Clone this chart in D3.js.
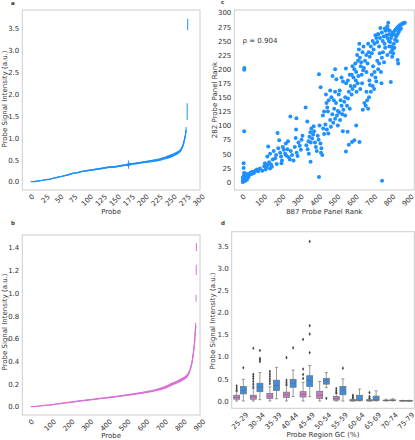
<!DOCTYPE html>
<html><head><meta charset="utf-8">
<script src="https://cdn.jsdelivr.net/npm/d3@7"></script>
<style>
body{margin:0;background:#fff}
svg{display:block}
text{font-family:"DejaVu Sans",sans-serif;fill:#333}
</style>
</head><body>
<svg id="chart" width="415" height="440"></svg>
<script>
// ---------- Panel a: 282-probe panel, sorted signal ----------
const probeA = [0,5,10,15,20,25,30,35,40,45,50,55,60,65,70,75,80,85,90,95,100,105,110,115,120,125,130,135,140,145,150,155,160,165,170,175,180,185,190,195,200,205,210,215,220,225,230,235,240,245,250,255,260,263,266,268,269,270,271,272,273,274,275,276,277,278,280,281];
const meanA = [0.00,0.00,0.01,0.02,0.03,0.04,0.05,0.06,0.08,0.09,0.11,0.12,0.14,0.15,0.17,0.19,0.20,0.21,0.23,0.24,0.25,0.26,0.27,0.28,0.29,0.30,0.31,0.32,0.33,0.33,0.34,0.35,0.36,0.37,0.38,0.39,0.40,0.41,0.42,0.43,0.44,0.45,0.46,0.47,0.48,0.49,0.50,0.52,0.54,0.56,0.58,0.61,0.64,0.66,0.69,0.71,0.73,0.75,0.78,0.81,0.85,0.90,0.95,1.01,1.08,1.18,1.60,3.59];
const errA  = [0.01,0.01,0.01,0.01,0.01,0.01,0.01,0.01,0.01,0.012,0.012,0.012,0.015,0.015,0.015,0.015,0.015,0.015,0.015,0.015,0.018,0.018,0.018,0.018,0.018,0.02,0.02,0.02,0.02,0.02,0.02,0.02,0.02,0.02,0.02,0.095,0.02,0.02,0.022,0.022,0.022,0.025,0.025,0.025,0.025,0.03,0.03,0.03,0.03,0.035,0.04,0.035,0.035,0.035,0.035,0.03,0.03,0.03,0.03,0.03,0.03,0.035,0.035,0.04,0.04,0.07,0.19,0.13];

// ---------- Panel b: 887-probe panel, sorted signal ----------
const probeB = [0,25,50,75,100,125,150,175,200,225,250,275,300,325,350,375,400,425,450,475,500,525,550,575,600,625,650,675,700,725,750,775,800,820,835,845,855,862,868,873,877,879,882,884,885,886];
const meanB = [0.000,0.003,0.007,0.011,0.015,0.021,0.026,0.032,0.037,0.042,0.048,0.053,0.058,0.063,0.068,0.073,0.078,0.083,0.088,0.093,0.099,0.105,0.111,0.117,0.124,0.131,0.139,0.148,0.160,0.175,0.195,0.212,0.232,0.250,0.268,0.295,0.340,0.390,0.450,0.520,0.590,0.640,0.710,0.955,1.205,1.405];
const errB  = [0.002,0.002,0.002,0.003,0.003,0.003,0.003,0.004,0.004,0.004,0.004,0.005,0.005,0.005,0.005,0.005,0.006,0.006,0.006,0.006,0.007,0.007,0.007,0.008,0.008,0.009,0.009,0.010,0.011,0.012,0.013,0.013,0.014,0.014,0.015,0.015,0.015,0.015,0.02,0.02,0.02,0.02,0.03,0.03,0.045,0.035];

// ---------- Panel c: rank comparison ----------
const rankPairs = [
[1,0],[3,2],[5,1],[4,5],[7,3],[9,6],[2,8],[6,10],[11,4],[13,8],[10,12],[15,2],[16,11],[18,6],[20,9],[22,13],[24,4],[26,7],[14,15],[28,11],[30,14],[8,16],[33,9],[36,13],[40,15],
[45,17],[50,14],[55,18],[62,16],[70,20],[78,22],[85,19],[95,24],[108,20],[118,28],[122,33],[130,26],[137,30],[145,35],[150,24],[155,31],[160,27],[126,22],
[6,25],[6,33],[9,90],[9,199],[10,202],
[140,63],[150,50],[135,45],[165,40],[170,55],[178,42],[183,48],[191,87],[195,60],[200,74],[205,52],[210,45],[215,38],[220,62],[225,57],[232,50],[238,47],[245,58],[252,44],[258,40],[263,55],[270,48],[278,38],[285,62],[290,78],[295,52],[300,46],[305,70],[312,64],[318,57],[322,75],[327,82],[236,68],[248,72],[212,33],[186,32],
[261,116],[294,113],[292,93],[344,132],[353,107],[371,36],[417,9],
[348,65],[355,58],[360,72],[365,80],[370,88],[375,95],[380,77],[385,84],[390,90],[395,70],[400,62],[405,55],[410,82],[415,75],[420,100],[425,68],[430,60],[435,48],[428,52],[388,99],[372,70],[362,50],[440,95],[445,85],
[417,191],[426,168],[491,188],[505,200],[564,201],
[438,118],[445,125],[452,102],[458,140],[462,132],[470,145],[478,110],[485,150],[490,120],[495,105],[500,130],[505,160],[510,140],[515,118],[520,126],[525,155],[530,162],[535,145],[540,135],[545,120],[550,128],[555,142],[560,150],[565,175],[570,135],[575,148],[580,160],[585,130],[590,170],[595,155],[600,165],[520,100],[532,110],[547,90],[505,112],[482,98],[468,86],[460,93],[455,155],[512,182],[540,185],[548,178],[498,145],[528,123],[560,118],[575,180],[585,190],[478,162],[466,125],
[573,89],[597,71],[610,74],[638,71],[620,100],[564,54],[580,66],
[605,185],[610,200],[615,210],[620,195],[625,225],[630,215],[635,235],[640,220],[645,205],[650,190],[655,230],[660,240],[612,170],[618,180],[628,175],[642,165],[652,175],[600,205],[595,190],[632,188],[647,212],[658,198],[637,245],[622,160],
[656,128],[665,140],[672,135],[680,145],[690,150],[700,160],[710,170],[718,165],[685,130],[676,160],[695,172],
[662,202],[668,215],[675,225],[682,210],[688,230],[694,222],[700,240],[705,228],[710,250],[715,235],[720,245],[725,260],[730,255],[735,248],[740,262],[745,240],[750,255],[752,273],[739,262],[760,265],[765,250],[770,258],[775,245],[780,268],[785,260],[790,255],[795,270],[800,262],[720,195],[725,185],[730,178],[740,200],[745,210],[755,195],[760,220],[766,230],[772,212],[778,238],[790,225],[800,240],[712,205],[705,190],[692,180],[735,215],[758,175],[748,228],[685,245],[676,195],
[805,248],[810,255],[815,260],[820,265],[825,262],[830,268],[835,270],[840,272],[845,274],[850,275],[855,277],[860,278],[865,279],[870,280],[875,281],[880,282],[885,282],[812,240],[818,235],[825,245],[832,252],[838,258],[845,262],[852,266],[858,270],[864,272],[822,228],[816,222],[808,230],[828,238],[842,250],[798,250],[803,268],[795,282],[790,276],[776,272],
[809,177],[846,216],[849,210],[761,2]
];
const rhoText = "ρ = 0.904";

// ---------- Panel d: GC content boxplots ----------
const gcBins = ["25-29","30-34","35-39","40-44","45-49","50-54","55-59","60-64","65-69","70-74","75-79"];
// panel b (887) series = pink, panel a (282) series = blue
const pinkLo  = [0.00,0.00,0.00,0.00,0.00,0.00,0.00,0.00,0.00,0.000,0.000];
const pinkQ1  = [0.04,0.04,0.06,0.08,0.09,0.06,0.02,0.00,0.00,0.005,0.000];
const pinkMed = [0.08,0.09,0.11,0.14,0.15,0.13,0.06,0.01,0.01,0.010,0.005];
const pinkQ3  = [0.13,0.13,0.17,0.20,0.21,0.22,0.10,0.03,0.03,0.020,0.010];
const pinkHi  = [0.22,0.28,0.32,0.35,0.42,0.44,0.17,0.05,0.05,0.040,0.015];
const pinkFliers = [[0.24,0.29,0.34],[0.32,0.38,0.44,0.50,0.55,0.60,1.19],[0.39,0.45,0.50,0.56,0.61,0.67],[0.38,0.42,0.47,0.98],[0.51,0.60,0.72,1.39],[],[0.19,0.23,0.28],[0.07,0.10,0.13],[0.07,0.10,0.19],[],[]];
const blueLo  = [0.00,0.03,0.05,0.10,0.10,0.30,0.00,0.00,0.00,0.000,0.000];
const blueQ1  = [0.16,0.21,0.24,0.31,0.33,0.38,0.14,0.01,0.01,0.010,0.000];
const blueMed = [0.24,0.31,0.35,0.40,0.47,0.45,0.24,0.02,0.03,0.015,0.005];
const blueQ3  = [0.33,0.40,0.47,0.49,0.57,0.51,0.33,0.13,0.11,0.025,0.010];
const blueHi  = [0.49,0.64,0.76,0.70,0.80,0.64,0.50,0.27,0.23,0.050,0.015];
const blueFliers = [[0.75],[0.89,0.93,0.96,1.14],[],[1.20],[1.09,1.51,1.70,3.60],[0.06],[0.74],[],[],[],[]];

// ---------- styles ----------
const BLUE = "#1e90ff", PINK = "#da70d6";
const BLUE_BOX = "#3a8fe3", PINK_BOX = "#cd7dca";
const SPINE = "#cccccc", GRAYLINE = "#6e6e6e";
const FS = 7;
const BAND_MAX = 0.04; // cap of the drawn band half-width; full error shown by bars

const svg = d3.select("#chart");

function frame(g, x0, y0, x1, y1) {
  g.append("rect").attr("x", x0).attr("y", y0).attr("width", x1 - x0).attr("height", y1 - y0)
    .attr("fill", "none").attr("stroke", SPINE).attr("stroke-width", 1);
}
function yAxis(g, scale, ticks, fmt, x0) {
  const ax = g.append("g").attr("transform", `translate(${x0},0)`)
    .call(d3.axisLeft(scale).tickValues(ticks).tickFormat(fmt).tickSize(0).tickPadding(3));
  ax.select(".domain").remove();
  ax.attr("font-size", FS).attr("font-family", null);
  ax.selectAll("text").style("fill", "#333");
}
function xAxisRot(g, scale, ticks, fmt, y0) {
  const ax = g.append("g").attr("transform", `translate(0,${y0})`)
    .call(d3.axisBottom(scale).tickValues(ticks).tickFormat(fmt).tickSize(0).tickPadding(0));
  ax.select(".domain").remove();
  ax.attr("font-size", FS).attr("font-family", null);
  ax.selectAll("text").each(function () {
    const w = this.getComputedTextLength();
    const h = FS * 0.75;
    const off = 3.5 + (w + h) * 0.7071 / 2;
    d3.select(this).attr("y", off).attr("dy", "0.35em").attr("text-anchor", "middle")
      .attr("transform", `rotate(-45,0,${off})`).style("fill", "#333");
  });
}
function label(g, txt, x, y, rot) {
  const t = g.append("text").attr("x", x).attr("y", y).attr("text-anchor", "middle")
    .attr("dominant-baseline", "central").attr("font-size", FS).text(txt);
  if (rot) t.attr("transform", `rotate(-90,${x},${y})`);
}
function panelLetter(txt, x, y) {
  svg.append("text").attr("x", x).attr("y", y).attr("font-size", 5.5).attr("font-weight", "bold").text(txt);
}

// sorted-signal panel (errorbar style)
function signalPanel(box, probes, means, errs, xDom, yDom, color) {
  const g = svg.append("g");
  const x = d3.scaleLinear().domain(xDom).range([box.x0, box.x1]);
  const y = d3.scaleLinear().domain(yDom).range([box.y1, box.y0]);
  frame(g, box.x0, box.y0, box.x1, box.y1);
  const pts = probes.map((p, i) => ({p, m: means[i], e: errs[i]}));
  const segs = []; let cur = [pts[0]];
  for (let i = 1; i < pts.length; i++) {
    const a = pts[i - 1], b = pts[i];
    if ((b.m - b.e) - (a.m + a.e) > 0.08) { segs.push(cur); cur = [b]; } else cur.push(b);
  }
  segs.push(cur);
  const be = d => Math.min(d.e, BAND_MAX);
  const area = d3.area().x(d => x(d.p)).y0(d => y(d.m - be(d))).y1(d => y(d.m + be(d)));
  const line = d3.line().x(d => x(d.p)).y(d => y(d.m));
  segs.forEach(s => {
    if (s.length > 1) {
      g.append("path").attr("d", area(s)).attr("fill", color);
      g.append("path").attr("d", line(s)).attr("fill", "none").attr("stroke", color).attr("stroke-width", 1.3);
    }
  });
  g.selectAll("line.eb").data(pts).join("line").attr("class", "eb")
    .attr("x1", d => x(d.p)).attr("x2", d => x(d.p))
    .attr("y1", d => y(d.m - d.e)).attr("y2", d => y(d.m + d.e))
    .attr("stroke", color).attr("stroke-width", 1);
  return {g, x, y};
}

// ---- Panel a ----
const A = {x0: 22.3, x1: 200, y0: 10, y1: 190};
const pa = signalPanel(A, probeA, meanA, errA, [-15.6, 303], [-0.19, 3.92], BLUE);
yAxis(pa.g, pa.y, d3.range(0, 3.51, 0.5), d3.format(".1f"), A.x0);
xAxisRot(pa.g, pa.x, d3.range(0, 301, 25), d3.format("d"), A.y1);
label(pa.g, "Probe", (A.x0 + A.x1) / 2, 211.7);
label(pa.g, "Probe Signal Intensity (a.u.)", 5, 99, true);
panelLetter("a", 11, 5);

// ---- Panel b ----
const B = {x0: 22.3, x1: 200, y0: 235, y1: 415};
const pb = signalPanel(B, probeB, meanB, errB, [-46, 905], [-0.073, 1.512], PINK);
yAxis(pb.g, pb.y, d3.range(0, 1.41, 0.2), d3.format(".1f"), B.x0);
xAxisRot(pb.g, pb.x, d3.range(0, 901, 100), d3.format("d"), B.y1);
label(pb.g, "Probe", (B.x0 + B.x1) / 2, 435.5);
label(pb.g, "Probe Signal Intensity (a.u.)", 5, 322, true);
panelLetter("b", 11, 225);

// ---- Panel c ----
const C = {x0: 234.3, x1: 414.3, y0: 10, y1: 190};
const gc = svg.append("g");
const cx = d3.scaleLinear().domain([-45, 937]).range([C.x0, C.x1]);
const cy = d3.scaleLinear().domain([-14.2, 304.8]).range([C.y1, C.y0]);
frame(gc, C.x0, C.y0, C.x1, C.y1);
gc.selectAll("circle").data(rankPairs).join("circle")
  .attr("cx", d => cx(d[0])).attr("cy", d => cy(d[1])).attr("r", 2.0)
  .attr("fill", BLUE);
yAxis(gc, cy, d3.range(0, 301, 25), d3.format("d"), C.x0);
xAxisRot(gc, cx, d3.range(0, 901, 100), d3.format("d"), C.y1);
label(gc, "887 Probe Panel Rank", (C.x0 + C.x1) / 2, 211.7);
label(gc, "282 Probe Panel Rank", 215, 100, true);
gc.append("text").attr("x", cx(0)).attr("y", cy(250)).attr("dy", "0.35em").attr("font-size", FS).text(rhoText);
panelLetter("c", 221, 4);

// ---- Panel d ----
const D = {x0: 231.7, x1: 414.3, y0: 231.7, y1: 408.3};
const gd = svg.append("g");
const dx = d3.scaleBand().domain(gcBins).range([D.x0, D.x1]).padding(0);
const dy = d3.scaleLinear().domain([-0.165, 3.82]).range([D.y1, D.y0]);
frame(gd, D.x0, D.y0, D.x1, D.y1);
const bw = dx.bandwidth();
const series = [
  {off: -0.2, fill: PINK_BOX, lo: pinkLo, q1: pinkQ1, med: pinkMed, q3: pinkQ3, hi: pinkHi, fl: pinkFliers},
  {off: 0.2, fill: BLUE_BOX, lo: blueLo, q1: blueQ1, med: blueMed, q3: blueQ3, hi: blueHi, fl: blueFliers}
];
const boxW = bw * 0.4 * 0.9;
series.forEach(s => {
  gcBins.forEach((c, i) => {
    const xc = dx(c) + bw / 2 + s.off * bw;
    const stroke = GRAYLINE, sw = 0.7;
    gd.append("line").attr("x1", xc).attr("x2", xc).attr("y1", dy(s.q3[i])).attr("y2", dy(s.hi[i])).attr("stroke", stroke).attr("stroke-width", sw);
    gd.append("line").attr("x1", xc).attr("x2", xc).attr("y1", dy(s.q1[i])).attr("y2", dy(s.lo[i])).attr("stroke", stroke).attr("stroke-width", sw);
    [s.hi[i], s.lo[i]].forEach(v => gd.append("line").attr("x1", xc - boxW / 4).attr("x2", xc + boxW / 4)
      .attr("y1", dy(v)).attr("y2", dy(v)).attr("stroke", stroke).attr("stroke-width", sw));
    gd.append("rect").attr("x", xc - boxW / 2).attr("width", boxW)
      .attr("y", dy(s.q3[i])).attr("height", Math.max(0.6, dy(s.q1[i]) - dy(s.q3[i])))
      .attr("fill", s.fill).attr("stroke", stroke).attr("stroke-width", sw);
    gd.append("line").attr("x1", xc - boxW / 2).attr("x2", xc + boxW / 2).attr("y1", dy(s.med[i])).attr("y2", dy(s.med[i])).attr("stroke", stroke).attr("stroke-width", sw);
    s.fl[i].forEach(v => gd.append("path").attr("d", d3.symbol(d3.symbolDiamond, 4)())
      .attr("transform", `translate(${xc},${dy(v)})`).attr("fill", "#444"));
  });
});
yAxis(gd, dy, d3.range(0, 3.51, 0.5), d3.format(".1f"), D.x0);
xAxisRot(gd, dx, gcBins, d => d, D.y1);
label(gd, "Probe Region GC (%)", (D.x0 + D.x1) / 2, 435);
label(gd, "Probe Signal Intensity (a.u.)", 213, 321, true);
panelLetter("d", 221, 225);
</script>
</body></html>
